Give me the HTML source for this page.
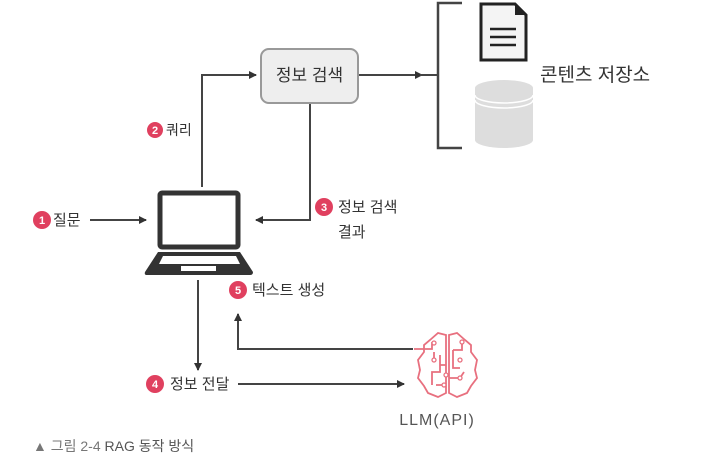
<!DOCTYPE html>
<html><head><meta charset="utf-8"><style>
html,body{margin:0;padding:0;background:#fff;width:712px;height:475px;overflow:hidden}
svg{display:block}
text{font-family:"Liberation Sans","Noto Sans CJK KR","NanumGothic",sans-serif;fill:#333}
</style></head><body>
<svg width="712" height="475" viewBox="0 0 712 475" xmlns="http://www.w3.org/2000/svg">
<defs>
<marker id="ah" markerWidth="8" markerHeight="8" refX="7" refY="4" orient="auto" markerUnits="userSpaceOnUse">
<path d="M0,0 L8,4 L0,8 Z" fill="#333"/></marker>
</defs>
<g stroke="#444" stroke-width="2" fill="none">
<polyline points="202,187 202,75 256,75" marker-end="url(#ah)"/>
<line x1="358" y1="75" x2="422" y2="75" marker-end="url(#ah)"/>
<line x1="420" y1="75" x2="438" y2="75"/>
<polyline points="462,3 438,3 438,148 462,148" stroke-width="2.5"/>
<polyline points="310,103 310,220 256,220" marker-end="url(#ah)"/>
<line x1="90" y1="220" x2="146" y2="220" marker-end="url(#ah)"/>
<line x1="198" y1="280" x2="198" y2="370" marker-end="url(#ah)"/>
<line x1="238" y1="384" x2="404" y2="384" marker-end="url(#ah)"/>
<polyline points="413,349 238,349 238,314" marker-end="url(#ah)"/>
</g>
<rect x="261" y="49" width="97" height="54" rx="8" fill="#eee" stroke="#999" stroke-width="2"/>
<text x="309.5" y="81" font-size="17" text-anchor="middle">정보 검색</text>
<path d="M481,4 L515,4 L526,15 L526,60 L481,60 Z" fill="#f4f4f4" stroke="#222" stroke-width="3"/>
<path d="M515,4 L515,15 L526,15 Z" fill="#222"/>
<g stroke="#222" stroke-width="2.5"><line x1="490" y1="29" x2="516" y2="29"/><line x1="490" y1="37" x2="516" y2="37"/><line x1="490" y1="45" x2="516" y2="45"/></g>
<path d="M475,88 L475,140 A29,8 0 0 0 533,140 L533,88 Z" fill="#ddd"/>
<ellipse cx="504" cy="88" rx="29" ry="8" fill="#ddd"/>
<path d="M475,95 A29,8 0 0 0 533,95 M475,100 A29,8 0 0 0 533,100" stroke="#fff" stroke-width="1.5" fill="none"/>
<text x="540" y="81" font-size="19">콘텐츠 저장소</text>
<rect x="160" y="193" width="78" height="54" rx="2" fill="#fff" stroke="#333" stroke-width="5"/>
<path d="M158,252 L240,252 L253,272 Q253,275 250,275 L147,275 Q144,275 145,272 Z" fill="#333"/>
<path d="M163,256 L236,256 L240,264 L159,264 Z" fill="#fff"/>
<rect x="181" y="266" width="35" height="5" fill="#fff"/>
<g fill="#e0405f">
<circle cx="155" cy="130" r="8"/><circle cx="42" cy="220" r="9"/><circle cx="324" cy="207" r="9"/>
<circle cx="155" cy="384" r="9"/><circle cx="238" cy="290" r="9"/>
</g>
<g font-size="11" font-weight="bold" text-anchor="middle">
<text x="155" y="134" style="fill:#fff">2</text><text x="42" y="224" style="fill:#fff">1</text>
<text x="324" y="211" style="fill:#fff">3</text><text x="155" y="388" style="fill:#fff">4</text>
<text x="238" y="294" style="fill:#fff">5</text>
</g>
<text x="166" y="135" font-size="14">쿼리</text>
<text x="53" y="225" font-size="15">질문</text>
<text x="338" y="212" font-size="15">정보 검색</text>
<text x="338" y="237" font-size="15">결과</text>
<text x="170" y="389" font-size="15">정보 전달</text>
<text x="252" y="295" font-size="15">텍스트 생성</text>
<g stroke="#e8707f" stroke-width="1.8" fill="none">
<path d="M446,335 L438,333 L430,340 L424,345 L424,352 L418,360 L420,370 L418,378 L424,386 L428,393 L438,397 L446,393 Z"/>
<path d="M449,335 L457,333 L465,340 L471,345 L471,352 L477,360 L475,370 L477,378 L471,386 L467,393 L457,397 L449,393 Z"/>
<path d="M414,349 L432,349 L432,342 M434,352 L434,360 M440,355 L440,372 L432,372 L432,385 M446,365 L440,365 M453,350 L453,368 L460,368 M462,342 L462,350 L453,350 M449,378 L460,378 L464,372 M436,385 L444,385"/>
</g>
<g fill="#fff" stroke="#e8707f" stroke-width="1.3">
<circle cx="434" cy="343" r="2"/><circle cx="434" cy="360" r="2"/><circle cx="462" cy="342" r="2"/>
<circle cx="460" cy="360" r="2"/><circle cx="446" cy="375" r="2"/><circle cx="460" cy="378" r="2"/><circle cx="444" cy="385" r="2"/>
</g>
<text x="437" y="425" font-size="16" text-anchor="middle" style="fill:#555;letter-spacing:1px">LLM(API)</text>
<text x="33" y="451" font-size="14" style="fill:#777">▲ 그림 2-4 <tspan style="fill:#555">RAG 동작 방식</tspan></text>
</svg>
</body></html>
